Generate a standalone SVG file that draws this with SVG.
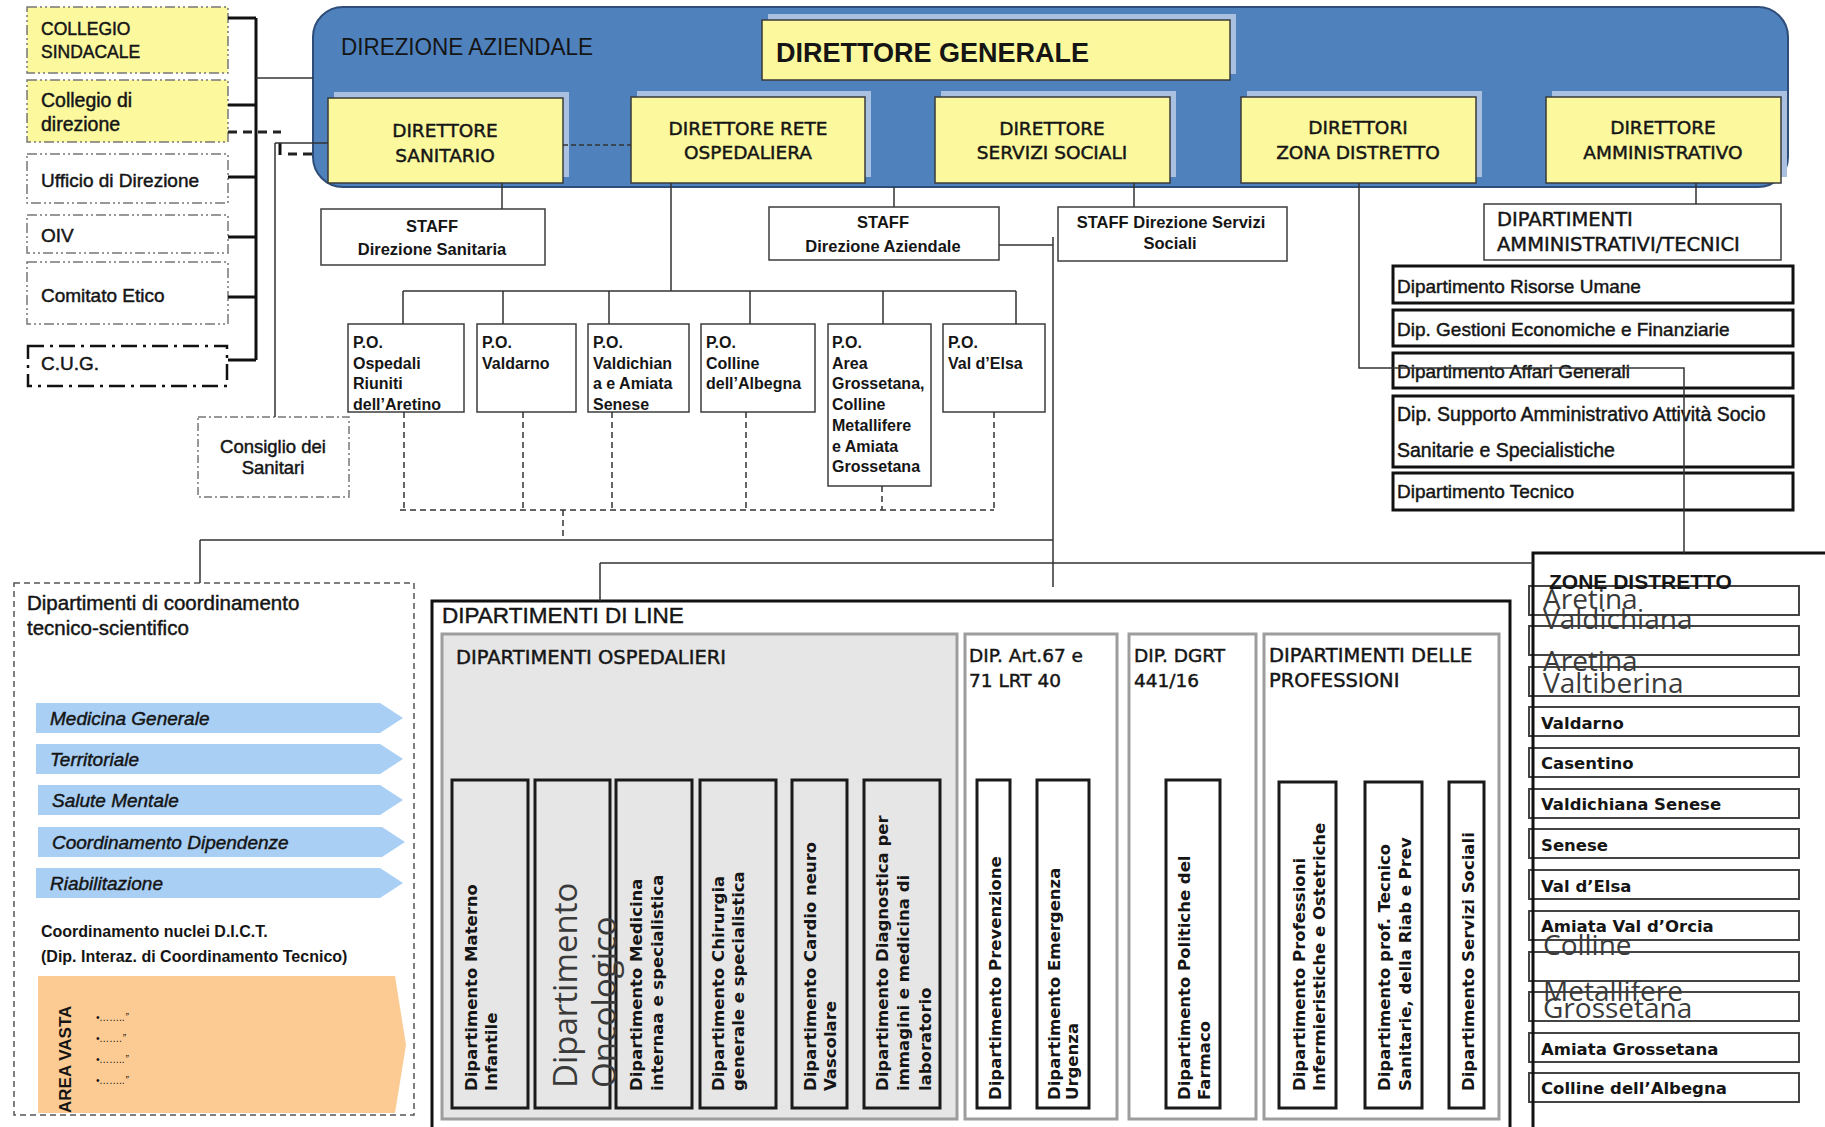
<svg xmlns="http://www.w3.org/2000/svg" width="1825" height="1127" viewBox="0 0 1825 1127">
<style>
.ls{font-family:"Liberation Sans",Arial,sans-serif;fill:#151515}
.dv{font-family:"DejaVu Sans",Verdana,sans-serif;fill:#151515}
.os{font-family:"Open Sans","Noto Sans",sans-serif;fill:#3a3a3a}
.b{font-weight:bold}
.it{font-style:italic}
.sb{stroke:#151515;stroke-width:0.45}
.mid{text-anchor:middle}
.yb{fill:#fbf89e;stroke:#3a3a3a;stroke-width:1.5}
.sh{fill:#a9c0e0}
.wb{fill:#fff;stroke:#3c3c3c;stroke-width:1.5}
.tk{fill:#fff;stroke:#111;stroke-width:3}
.gb{fill:#e6e6e6;stroke:#9d9d9d;stroke-width:3}
.wg{fill:#fff;stroke:#9d9d9d;stroke-width:3}
.vb{fill:#e6e6e6;stroke:#1a1a1a;stroke-width:3}
.vw{fill:#fff;stroke:#1a1a1a;stroke-width:3}
.ln{fill:none;stroke:#333;stroke-width:1.5}
.lk{fill:none;stroke:#111;stroke-width:3}
.dl{fill:none;stroke:#333;stroke-width:1.5;stroke-dasharray:6 4}
.dk{fill:none;stroke:#222;stroke-width:3;stroke-dasharray:9 6}
.dd{fill:#fff;stroke:#777;stroke-width:1.5;stroke-dasharray:10 3 2 3 2 3}
.ar{fill:#a9cff5}
.zr{fill:#fff;stroke:#444;stroke-width:2}
</style>

<!-- Left organs -->
<g id="collegio-sindacale">
<rect x="27" y="7" width="201" height="66" class="dd" style="fill:#fbf89e"/>
<text class="ls sb" font-size="17.5" x="41" y="35">COLLEGIO</text>
<text class="ls sb" font-size="17.5" x="41" y="58">SINDACALE</text>
</g>
<g id="collegio-direzione">
<rect x="27" y="80" width="201" height="62" class="dd" style="fill:#fbf89e"/>
<text class="ls sb" font-size="19.5" x="41" y="107">Collegio di</text>
<text class="ls sb" font-size="19.5" x="41" y="131">direzione</text>
</g>
<g id="ufficio-direzione">
<rect x="27" y="154" width="201" height="49" class="dd"/>
<text class="ls sb" font-size="19" x="41" y="187">Ufficio di Direzione</text>
</g>
<g id="oiv">
<rect x="27" y="215" width="201" height="38" class="dd"/>
<text class="ls sb" font-size="19" x="41" y="242">OIV</text>
</g>
<g id="comitato-etico">
<rect x="27" y="262" width="201" height="62" class="dd"/>
<text class="ls sb" font-size="19" x="41" y="302">Comitato Etico</text>
</g>
<g id="cug">
<rect x="28" y="346" width="199" height="40" fill="#fff" stroke="#111" stroke-width="2.5" stroke-dasharray="16 6 3 6"/>
<text class="ls sb" font-size="19" x="41" y="370">C.U.G.</text>
</g>
<g id="consiglio-sanitari">
<rect x="198" y="417" width="151" height="80" class="dd" style="stroke-dasharray:8 3 2 3"/>
<text class="ls sb mid" font-size="18.5" x="273" y="453">Consiglio dei</text>
<text class="ls sb mid" font-size="18.5" x="273" y="474">Sanitari</text>
</g>

<!-- Direzione aziendale -->
<g id="direzione-aziendale">
<rect x="313" y="7" width="1475" height="180" rx="30" fill="#4f81bd" stroke="#2e4d78" stroke-width="2"/>
<text class="ls" font-size="23" x="341" y="55" textLength="252" lengthAdjust="spacingAndGlyphs">DIREZIONE AZIENDALE</text>
</g>
<g id="direttore-generale">
<rect x="768" y="14" width="468" height="60" class="sh"/>
<rect x="762" y="20" width="468" height="60" class="yb"/>
<text class="ls b" font-size="27" x="776" y="62">DIRETTORE GENERALE</text>
</g>
<g id="direttore-sanitario">
<rect x="334" y="92" width="235" height="85" class="sh"/>
<rect x="328" y="98" width="235" height="85" class="yb"/>
<text class="dv sb mid" font-size="18.5" x="445" y="137">DIRETTORE</text>
<text class="dv sb mid" font-size="18.5" x="445" y="162">SANITARIO</text>
</g>
<g id="direttore-rete-ospedaliera">
<rect x="637" y="91" width="234" height="86" class="sh"/>
<rect x="631" y="97" width="234" height="86" class="yb"/>
<text class="dv sb mid" font-size="18.5" x="748" y="135">DIRETTORE RETE</text>
<text class="dv sb mid" font-size="18.5" x="748" y="159">OSPEDALIERA</text>
</g>
<g id="direttore-servizi-sociali">
<rect x="941" y="91" width="235" height="86" class="sh"/>
<rect x="935" y="97" width="235" height="86" class="yb"/>
<text class="dv sb mid" font-size="18.5" x="1052" y="135">DIRETTORE</text>
<text class="dv sb mid" font-size="18.5" x="1052" y="159">SERVIZI SOCIALI</text>
</g>
<g id="direttori-zona-distretto">
<rect x="1247" y="91" width="235" height="86" class="sh"/>
<rect x="1241" y="97" width="235" height="86" class="yb"/>
<text class="dv sb mid" font-size="18.5" x="1358" y="134">DIRETTORI</text>
<text class="dv sb mid" font-size="18.5" x="1358" y="159">ZONA DISTRETTO</text>
</g>
<g id="direttore-amministrativo">
<rect x="1552" y="91" width="235" height="86" class="sh"/>
<rect x="1546" y="97" width="235" height="86" class="yb"/>
<text class="dv sb mid" font-size="18.5" x="1663" y="134">DIRETTORE</text>
<text class="dv sb mid" font-size="18.5" x="1663" y="159">AMMINISTRATIVO</text>
</g>

<!-- Staff -->
<g id="staff-direzione-sanitaria">
<rect x="321" y="209" width="224" height="56" class="wb"/>
<text class="ls b mid" font-size="16.5" x="432" y="232">STAFF</text>
<text class="ls b mid" font-size="16.5" x="432" y="255">Direzione Sanitaria</text>
</g>
<g id="staff-direzione-aziendale">
<rect x="769" y="207" width="230" height="53" class="wb"/>
<text class="ls b mid" font-size="16.5" x="883" y="228">STAFF</text>
<text class="ls b mid" font-size="16.5" x="883" y="252">Direzione Aziendale</text>
</g>
<g id="staff-direzione-servizi-sociali">
<rect x="1058" y="207" width="229" height="54" class="wb"/>
<text class="ls b mid" font-size="16.5" x="1171" y="228">STAFF Direzione Servizi</text>
<text class="ls b mid" font-size="16.5" x="1170" y="249">Sociali</text>
</g>
<g id="dipartimenti-amministrativi-tecnici">
<rect x="1484" y="204" width="297" height="56" class="wb"/>
<text class="dv sb" font-size="19.5" x="1497" y="226">DIPARTIMENTI</text>
<text class="dv sb" font-size="19.5" x="1497" y="251">AMMINISTRATIVI/TECNICI</text>
</g>
<g id="dip-risorse-umane">
<rect x="1393" y="266" width="400" height="37" class="tk"/>
<text class="ls sb" font-size="19" x="1397" y="293">Dipartimento Risorse Umane</text>
</g>
<g id="dip-gestioni-economiche">
<rect x="1393" y="310" width="400" height="36" class="tk"/>
<text class="ls sb" font-size="19" x="1397" y="336">Dip. Gestioni Economiche e Finanziarie</text>
</g>
<g id="dip-affari-generali">
<rect x="1393" y="353" width="400" height="35" class="tk"/>
<text class="ls sb" font-size="19" x="1397" y="378">Dipartimento Affari Generali</text>
</g>
<g id="dip-supporto-amministrativo">
<rect x="1393" y="396" width="400" height="71" class="tk"/>
<text class="ls sb" font-size="19.5" x="1397" y="421">Dip. Supporto Amministrativo Attività Socio</text>
<text class="ls sb" font-size="19.5" x="1397" y="457">Sanitarie e Specialistiche</text>
</g>
<g id="dip-tecnico">
<rect x="1393" y="473" width="400" height="37" class="tk"/>
<text class="ls sb" font-size="19" x="1397" y="498">Dipartimento Tecnico</text>
</g>

<!-- Presidi ospedalieri -->
<g id="po-aretino">
<rect x="348" y="324" width="116" height="88" class="wb"/>
<text class="ls b" font-size="16"><tspan x="353" y="348">P.O.</tspan><tspan x="353" y="368.7">Ospedali</tspan><tspan x="353" y="389.4">Riuniti</tspan><tspan x="353" y="410.1">dell’Aretino</tspan></text>
</g>
<g id="po-valdarno">
<rect x="477" y="324" width="99" height="88" class="wb"/>
<text class="ls b" font-size="16"><tspan x="482" y="348">P.O.</tspan><tspan x="482" y="368.7">Valdarno</tspan></text>
</g>
<g id="po-valdichiana">
<rect x="588" y="324" width="101" height="88" class="wb"/>
<text class="ls b" font-size="16"><tspan x="593" y="348">P.O.</tspan><tspan x="593" y="368.7">Valdichian</tspan><tspan x="593" y="389.4">a e Amiata</tspan><tspan x="593" y="410.1">Senese</tspan></text>
</g>
<g id="po-colline-albegna">
<rect x="701" y="324" width="114" height="88" class="wb"/>
<text class="ls b" font-size="16"><tspan x="706" y="348">P.O.</tspan><tspan x="706" y="368.7">Colline</tspan><tspan x="706" y="389.4">dell’Albegna</tspan></text>
</g>
<g id="po-area-grossetana">
<rect x="828" y="324" width="103" height="162" class="wb"/>
<text class="ls b" font-size="16"><tspan x="832" y="348">P.O.</tspan><tspan x="832" y="368.7">Area</tspan><tspan x="832" y="389.4">Grossetana,</tspan><tspan x="832" y="410.1">Colline</tspan><tspan x="832" y="430.8">Metallifere</tspan><tspan x="832" y="451.5">e Amiata</tspan><tspan x="832" y="472.2">Grossetana</tspan></text>
</g>
<g id="po-valdelsa">
<rect x="943" y="324" width="102" height="88" class="wb"/>
<text class="ls b" font-size="16"><tspan x="948" y="348">P.O.</tspan><tspan x="948" y="368.7">Val d’Elsa</tspan></text>
</g>

<!-- Dipartimenti di coordinamento -->
<g id="dipartimenti-coordinamento">
<rect x="14" y="583" width="400" height="532" fill="#fff" stroke="#555" stroke-width="1.5" stroke-dasharray="6 4"/>
<text class="ls sb" font-size="20.5" x="27" y="610">Dipartimenti di coordinamento</text>
<text class="ls sb" font-size="20.5" x="27" y="635">tecnico-scientifico</text>
<path class="ar" d="M36,703 H380 L403,718 L380,733 H36 Z"/>
<path class="ar" d="M36,744 H380 L403,759 L380,774 H36 Z"/>
<path class="ar" d="M38,785 H380 L403,800 L380,815 H38 Z"/>
<path class="ar" d="M38,827 H382 L405,842 L382,857 H38 Z"/>
<path class="ar" d="M36,868 H380 L403,883 L380,898 H36 Z"/>
<text class="ls it sb" font-size="19" x="50" y="725">Medicina Generale</text>
<text class="ls it sb" font-size="19" x="50" y="766">Territoriale</text>
<text class="ls it sb" font-size="19" x="52" y="807">Salute Mentale</text>
<text class="ls it sb" font-size="19" x="52" y="849">Coordinamento Dipendenze</text>
<text class="ls it sb" font-size="19" x="50" y="890">Riabilitazione</text>
<text class="ls b" font-size="16" x="41" y="937">Coordinamento nuclei D.I.C.T.</text>
<text class="ls b" font-size="16" x="41" y="962">(Dip. Interaz. di Coordinamento Tecnico)</text>
<path d="M38,976 H395 L406,1045 L395,1113 H38 Z" fill="#fccb94"/>
<text class="ls b" font-size="17" transform="translate(71,1113) rotate(-90)">AREA VASTA</text>
<text class="ls it" font-size="10"><tspan x="96" y="1021">•……..”</tspan><tspan x="96" y="1042">•…….”</tspan><tspan x="96" y="1063">•……..”</tspan><tspan x="96" y="1084">•……..”</tspan></text>
</g>

<!-- Dipartimenti di line -->
<g id="dipartimenti-di-line">
<rect x="432" y="601" width="1078" height="545" fill="#fff" stroke="#111" stroke-width="3"/>
<text class="ls sb" font-size="22.5" x="442" y="623">DIPARTIMENTI DI LINE</text>
</g>
<g id="dipartimenti-ospedalieri">
<rect x="442" y="634" width="515" height="485" class="gb"/>
<text class="dv sb" font-size="19.5" x="456" y="664">DIPARTIMENTI OSPEDALIERI</text>
<rect x="452" y="780" width="76" height="328" class="vb"/>
<rect x="535" y="780" width="75" height="328" class="vb"/>
<rect x="616" y="780" width="76" height="328" class="vb"/>
<rect x="700" y="780" width="76" height="328" class="vb"/>
<rect x="792" y="780" width="55" height="328" class="vb"/>
<rect x="864" y="780" width="76" height="328" class="vb"/>
<text class="dv b" font-size="16.5" transform="translate(477,1091) rotate(-90)"><tspan x="0" y="0">Dipartimento Materno</tspan><tspan x="0" y="20">Infantile</tspan></text>
<text class="os" font-size="33" transform="translate(577,1088) rotate(-90)"><tspan x="0" y="0">Dipartimento</tspan><tspan x="0" y="39">Oncologico</tspan></text>
<text class="dv b" font-size="16.5" transform="translate(642,1091) rotate(-90)"><tspan x="0" y="0">Dipartimento Medicina</tspan><tspan x="0" y="21">internaa e specialistica</tspan></text>
<text class="dv b" font-size="16.5" transform="translate(724,1091) rotate(-90)"><tspan x="0" y="0">Dipartimento Chirurgia</tspan><tspan x="0" y="20">generale e specialistica</tspan></text>
<text class="dv b" font-size="16.5" transform="translate(816,1091) rotate(-90)"><tspan x="0" y="0">Dipartimento Cardio neuro</tspan><tspan x="0" y="20">Vascolare</tspan></text>
<text class="dv b" font-size="16.5" transform="translate(888,1091) rotate(-90)"><tspan x="0" y="0">Dipartimento Diagnostica per</tspan><tspan x="0" y="21">immagini e medicina di</tspan><tspan x="0" y="43">laboratorio</tspan></text>
</g>
<g id="dip-art67">
<rect x="965" y="634" width="152" height="485" class="wg"/>
<text class="dv sb" font-size="18.5" x="969" y="662">DIP. Art.67 e</text>
<text class="dv sb" font-size="18.5" x="969" y="687">71 LRT 40</text>
<rect x="977" y="780" width="33" height="328" class="vw"/>
<rect x="1037" y="780" width="52" height="328" class="vw"/>
<text class="dv b" font-size="16.5" transform="translate(1001,1100) rotate(-90)">Dipartimento Prevenzione</text>
<text class="dv b" font-size="16.5" transform="translate(1060,1100) rotate(-90)"><tspan x="0" y="0">Dipartimento Emergenza</tspan><tspan x="0" y="18">Urgenza</tspan></text>
</g>
<g id="dip-dgrt">
<rect x="1129" y="634" width="127" height="485" class="wg"/>
<text class="dv sb" font-size="18.5" x="1134" y="662">DIP. DGRT</text>
<text class="dv sb" font-size="18.5" x="1134" y="687">441/16</text>
<rect x="1166" y="780" width="54" height="328" class="vw"/>
<text class="dv b" font-size="16.5" transform="translate(1190,1100) rotate(-90)"><tspan x="0" y="0">Dipartimento Politiche del</tspan><tspan x="0" y="20">Farmaco</tspan></text>
</g>
<g id="dip-professioni">
<rect x="1264" y="634" width="235" height="485" class="wg"/>
<text class="dv sb" font-size="19.5" x="1269" y="662">DIPARTIMENTI DELLE</text>
<text class="dv sb" font-size="19.5" x="1269" y="687">PROFESSIONI</text>
<rect x="1279" y="782" width="57" height="326" class="vw"/>
<rect x="1365" y="782" width="57" height="326" class="vw"/>
<rect x="1449" y="782" width="35" height="326" class="vw"/>
<text class="dv b" font-size="16.5" transform="translate(1305,1091) rotate(-90)"><tspan x="0" y="0">Dipartimento Professioni</tspan><tspan x="0" y="20">Infermieristiche e Ostetriche</tspan></text>
<text class="dv b" font-size="16.5" transform="translate(1390,1091) rotate(-90)"><tspan x="0" y="0">Dipartimento prof. Tecnico</tspan><tspan x="0" y="21">Sanitarie, della Riab e Prev</tspan></text>
<text class="dv b" font-size="16.5" transform="translate(1474,1091) rotate(-90)">Dipartimento Servizi Sociali</text>
</g>

<!-- Zone distretto -->
<g id="zone-distretto">
<rect x="1529" y="586" width="270" height="29" class="zr"/>
<rect x="1529" y="626" width="270" height="29" class="zr"/>
<rect x="1529" y="667" width="270" height="29" class="zr"/>
<rect x="1529" y="707" width="270" height="29" class="zr"/>
<rect x="1529" y="748" width="270" height="29" class="zr"/>
<rect x="1529" y="789" width="270" height="29" class="zr"/>
<rect x="1529" y="829" width="270" height="29" class="zr"/>
<rect x="1529" y="870" width="270" height="29" class="zr"/>
<rect x="1529" y="911" width="270" height="29" class="zr"/>
<rect x="1529" y="952" width="270" height="29" class="zr"/>
<rect x="1529" y="992" width="270" height="29" class="zr"/>
<rect x="1529" y="1033" width="270" height="29" class="zr"/>
<rect x="1529" y="1073" width="270" height="29" class="zr"/>
<rect x="1533" y="553" width="320" height="600" fill="none" stroke="#111" stroke-width="3"/>
<text class="ls b" font-size="21" x="1549" y="589">ZONE DISTRETTO</text>
<text class="os" font-size="28" x="1543" y="609">Aretina</text>
<text class="os" font-size="28" x="1543" y="629">Valdichiana</text>
<text class="os" font-size="28" x="1543" y="671">Aretina</text>
<text class="os" font-size="28" x="1543" y="693">Valtiberina</text>
<text class="dv b" font-size="16.5" x="1541" y="729">Valdarno</text>
<text class="dv b" font-size="16.5" x="1541" y="769">Casentino</text>
<text class="dv b" font-size="16.5" x="1541" y="810">Valdichiana Senese</text>
<text class="dv b" font-size="16.5" x="1541" y="851">Senese</text>
<text class="dv b" font-size="16.5" x="1541" y="892">Val d’Elsa</text>
<text class="dv b" font-size="16.5" x="1541" y="932">Amiata Val d’Orcia</text>
<text class="os" font-size="28" x="1543" y="955">Colline</text>
<text class="os" font-size="28" x="1543" y="1001">Metallifere</text>
<text class="os" font-size="28" x="1543" y="1018">Grossetana</text>
<text class="dv b" font-size="16.5" x="1541" y="1055">Amiata Grossetana</text>
<text class="dv b" font-size="16.5" x="1541" y="1094">Colline dell’Albegna</text>
</g>

<!-- Connectors -->
<g id="connectors">
<path class="lk" d="M256,18 V360 M228,18 H256 M228,105 H256 M228,177 H256 M228,237 H256 M228,297 H256 M228,360 H256"/>
<path class="ln" d="M256,78 H313"/>
<path class="dk" d="M228,132 H281"/>
<path class="lk" d="M280,143 V155"/>
<path class="dk" d="M288,154 H318"/>
<path class="ln" d="M275,143 H328 M275,143 V417"/>
<path class="ln" d="M502,183 V209"/>
<path class="dl" d="M563,145 H631" style="stroke-dasharray:5 3"/>
<path class="ln" d="M671,183 V291 M403,291 H1016 M403,291 V324 M503,291 V324 M609,291 V324 M750,291 V324 M883,291 V324 M1016,291 V324"/>
<path class="ln" d="M894,187 V207 M1134,183 V207 M999,245 H1053 M1053,237 V587"/>
<path class="dl" d="M404,412 V510 M523,412 V510 M612,412 V510 M746,412 V510 M882,486 V510 M994,412 V510 M400,510 H994 M563,510 V539"/>
<path class="ln" d="M200,540 H1053 M200,540 V583 M600,563 H1533 M600,563 V601"/>
<path class="ln" d="M1359,183 V368 H1684 V553 M1696,183 V204"/>
</g>
</svg>
